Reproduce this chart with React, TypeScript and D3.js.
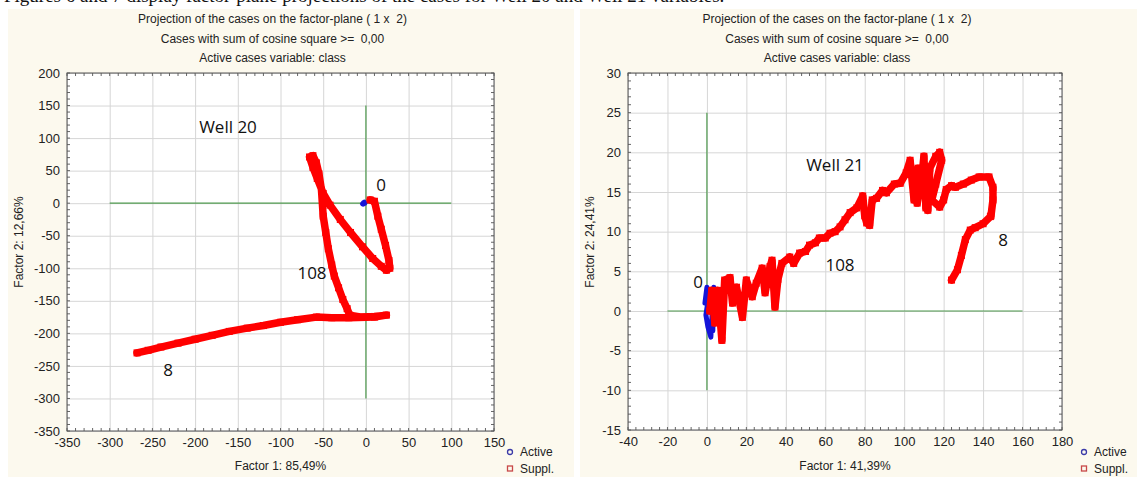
import React, { useEffect, useRef } from 'react'
import * as d3 from 'd3'

// values (factor 1, factor 2)
const well20Active: [number, number][] = [[-4, -1], [-3, 0.5], [-2, 1.5], [-1, 0], [-3, -1.5]]
const well20Suppl: [number, number][] = [
  [5, 5], [10, 3], [14, -20], [18, -40], [23, -65], [27, -88], [28, -100], [24, -103],
  [18, -97], [8, -85], [-4, -67], [-18, -45], [-30, -25], [-42, -3], [-50, 15],
  [-57, 38], [-62, 55], [-66, 71], [-62, 73], [-58, 62], [-55, 45], [-52, 20],
  [-50, -20], [-47, -45], [-44, -70], [-40, -95], [-37, -112], [-32, -130], [-27, -148],
  [-22, -162], [-19, -172], [-5, -175], [10, -174], [24, -172], [10, -175], [-20, -176],
  [-40, -176], [-58, -175], [-80, -179], [-100, -183], [-120, -188], [-139, -192],
  [-160, -197], [-180, -203], [-200, -209], [-220, -215], [-240, -221], [-255, -226], [-268, -230]
]

const well21Active: [number, number][] = [
  [-1, 1], [0, 3], [1, 2], [-0.5, -0.5], [0.5, -2], [2, -3.3], [2.5, -1], [3.5, 3], [3, -2.5]
]
const well21Suppl: [number, number][] = [
  [1.5, 0], [2.5, 2.6], [4, -1.5], [5.6, 2.6], [7.6, -3.7], [9, 3.9], [11.7, 4.2], [13, 1],
  [15, 3], [18, -0.8], [20, 3.9], [23, 1.8], [25, 3.5], [28, 5.4], [29.5, 2.3], [32, 5.6],
  [33, 6.4], [34.5, 0.5], [36, 4], [38, 6], [42, 6.8], [44, 6], [47, 7.3], [50, 7.5],
  [52, 8.3], [55, 8.6], [57, 9.2], [60, 9.2], [62.4, 9.8], [65, 10], [67.5, 10.6], [70, 11.5],
  [72.6, 12.4], [76, 13], [79, 14.5], [80, 12], [81, 11.1], [82.5, 10.8], [83.8, 14],
  [86, 14.2], [89, 15.2], [91, 14.9], [95, 16], [98, 16.1], [101, 17.4], [103, 19], [105, 14],
  [107, 18], [106.6, 13.6], [109, 17], [110, 19.5], [111, 13], [112, 12.7], [113, 18],
  [116, 19.5], [118, 20], [119, 19], [116, 16], [114, 14], [118, 13.1], [120, 14],
  [121.3, 15.3], [124, 15.8], [126, 15.6], [130, 16], [134, 16.5], [138, 16.9], [143, 16.9],
  [145, 15.6], [145, 14], [144, 12], [143.7, 11.9], [140, 11], [136, 10.5], [133.5, 10.2],
  [131, 9], [129, 7], [127, 5.2], [124, 3.9]
]

const xTicks20 = [-350, -300, -250, -200, -150, -100, -50, 0, 50, 100, 150]
const yTicks20 = [-350, -300, -250, -200, -150, -100, -50, 0, 50, 100, 150, 200]
const xTicks21 = [-40, -20, 0, 20, 40, 60, 80, 100, 120, 140, 160, 180]
const yTicks21 = [-15, -10, -5, 0, 5, 10, 15, 20, 25, 30]

const titleLines = [
  'Projection of the cases on the factor-plane ( 1 x  2)',
  'Cases with sum of cosine square >=  0,00',
  'Active cases variable: class'
]

const font = 'Liberation Sans, Arial, sans-serif'

type PanelCfg = {
  bg: [number, number]
  box: [number, number, number, number] // left, top, right, bottom
  xTicks: number[]
  yTicks: number[]
  active: [number, number][]
  suppl: [number, number][]
  hLine: [number, number]
  vLine: [number, number]
  xTitle: string
  yTitle: string
  yTitleX: number
  well: { text: string; x: number; y: number }
  marks: { text: string; x: number; y: number }[]
  legendX: number
}

const panels: PanelCfg[] = [
  {
    bg: [8, 574],
    box: [67, 73, 494, 431],
    xTicks: xTicks20,
    yTicks: yTicks20,
    active: well20Active,
    suppl: well20Suppl,
    hLine: [-300, 100],
    vLine: [-300, 150],
    xTitle: 'Factor 1: 85,49%',
    yTitle: 'Factor 2: 12,66%',
    yTitleX: 23,
    well: { text: 'Well 20', x: 228, y: 133 },
    marks: [
      { text: '0', x: 381, y: 191 },
      { text: '108', x: 312, y: 279 },
      { text: '8', x: 168, y: 376 }
    ],
    legendX: 510
  },
  {
    bg: [580, 1137],
    box: [628, 73, 1062, 430],
    xTicks: xTicks21,
    yTicks: yTicks21,
    active: well21Active,
    suppl: well21Suppl,
    hLine: [-20, 160],
    vLine: [-10, 25],
    xTitle: 'Factor 1: 41,39%',
    yTitle: 'Factor 2: 24,41%',
    yTitleX: 594,
    well: { text: 'Well 21', x: 835, y: 171 },
    marks: [
      { text: '0', x: 698, y: 288 },
      { text: '108', x: 840, y: 271 },
      { text: '8', x: 1003, y: 246 }
    ],
    legendX: 1084
  }
]

function drawPanel(svg: d3.Selection<SVGSVGElement, unknown, null, undefined>, p: PanelCfg) {
  const [l, t, r, b] = p.box
  const x = d3.scaleLinear().domain(d3.extent(p.xTicks) as [number, number]).range([l, r])
  const y = d3.scaleLinear().domain(d3.extent(p.yTicks) as [number, number]).range([b, t])
  const g = svg.append('g')

  g.append('rect').attr('x', p.bg[0]).attr('y', 9).attr('width', p.bg[1] - p.bg[0]).attr('height', 468)
    .attr('fill', '#fcf9ee')

  const cx = (l + r) / 2
  titleLines.forEach((s, i) => {
    g.append('text').attr('x', cx - 8).attr('y', 23 + i * 19.5).attr('text-anchor', 'middle')
      .attr('font-family', font).attr('font-size', 12).attr('fill', '#222')
      .style('white-space', 'pre').text(s)
  })

  g.append('rect').attr('x', l).attr('y', t).attr('width', r - l).attr('height', b - t).attr('fill', '#fff')

  // grid
  g.append('g').attr('transform', `translate(0,${b})`)
    .call(d3.axisBottom(x).tickValues(p.xTicks).tickSize(-(b - t)).tickFormat(() => ''))
    .call(s => s.select('.domain').remove())
    .call(s => s.selectAll('line').attr('stroke', '#d6d6d6'))
  g.append('g').attr('transform', `translate(${l},0)`)
    .call(d3.axisLeft(y).tickValues(p.yTicks).tickSize(-(r - l)).tickFormat(() => ''))
    .call(s => s.select('.domain').remove())
    .call(s => s.selectAll('line').attr('stroke', '#d6d6d6'))

  // minor ticks on the frame
  const xStep = (p.xTicks[1] - p.xTicks[0]) / 5
  const yStep = (p.yTicks[1] - p.yTicks[0]) / 5
  const xMinor = d3.range(p.xTicks[0], p.xTicks[p.xTicks.length - 1] + 0.001, xStep)
  const yMinor = d3.range(p.yTicks[0], p.yTicks[p.yTicks.length - 1] + 0.001, yStep)
  const tk = g.append('g').attr('stroke', '#666').attr('stroke-width', 1)
  xMinor.forEach(v => {
    tk.append('line').attr('x1', x(v)).attr('x2', x(v)).attr('y1', b).attr('y2', b - 3)
    tk.append('line').attr('x1', x(v)).attr('x2', x(v)).attr('y1', t).attr('y2', t + 3)
  })
  yMinor.forEach(v => {
    tk.append('line').attr('y1', y(v)).attr('y2', y(v)).attr('x1', l).attr('x2', l + 3)
    tk.append('line').attr('y1', y(v)).attr('y2', y(v)).attr('x1', r).attr('x2', r - 3)
  })

  // tick labels
  g.append('g').attr('transform', `translate(0,${b + 4})`)
    .call(d3.axisBottom(x).tickValues(p.xTicks).tickSize(0).tickFormat(d => String(d)))
    .call(s => s.select('.domain').remove())
    .call(s => s.selectAll('text').attr('font-family', font).attr('font-size', 13).attr('fill', '#222'))
  g.append('g').attr('transform', `translate(${l - 4},0)`)
    .call(d3.axisLeft(y).tickValues(p.yTicks).tickSize(0).tickFormat(d => String(d)))
    .call(s => s.select('.domain').remove())
    .call(s => s.selectAll('text').attr('font-family', font).attr('font-size', 13).attr('fill', '#222'))

  // reference lines
  g.append('line').attr('x1', x(p.hLine[0])).attr('x2', x(p.hLine[1])).attr('y1', y(0)).attr('y2', y(0))
    .attr('stroke', '#4f9a4f').attr('stroke-width', 1.2)
  g.append('line').attr('x1', x(0)).attr('x2', x(0)).attr('y1', y(p.vLine[0])).attr('y2', y(p.vLine[1]))
    .attr('stroke', '#4f9a4f').attr('stroke-width', 1.2)

  g.append('rect').attr('x', l).attr('y', t).attr('width', r - l).attr('height', b - t)
    .attr('fill', 'none').attr('stroke', '#555')

  const line = d3.line<[number, number]>().x(d => x(d[0])).y(d => y(d[1]))
  g.append('path').attr('d', line(p.active)).attr('fill', 'none').attr('stroke', '#1414d8')
    .attr('stroke-width', 5).attr('stroke-linejoin', 'round').attr('stroke-linecap', 'round')
  g.append('path').attr('d', line(p.suppl)).attr('fill', 'none').attr('stroke', '#ff0000')
    .attr('stroke-width', 7.5).attr('stroke-linejoin', 'round').attr('stroke-linecap', 'round')
  g.append('g').selectAll('rect').data(p.suppl).join('rect')
    .attr('x', d => x(d[0]) - 3.5).attr('y', d => y(d[1]) - 3.5).attr('width', 7).attr('height', 7)
    .attr('fill', '#ff0000')

  // annotations
  const ann = g.append('g').attr('font-family', 'Open Sans, Liberation Sans, sans-serif').attr('font-size', 17)
    .attr('fill', '#111').attr('text-anchor', 'middle')
  ann.append('text').attr('x', p.well.x).attr('y', p.well.y).text(p.well.text)
  p.marks.forEach(m => ann.append('text').attr('x', m.x).attr('y', m.y).text(m.text))

  // axis titles
  g.append('text').attr('x', cx).attr('y', 470).attr('text-anchor', 'middle').attr('font-family', font)
    .attr('font-size', 12).attr('fill', '#222').text(p.xTitle)
  g.append('text').attr('transform', `translate(${p.yTitleX},${242}) rotate(-90)`).attr('text-anchor', 'middle')
    .attr('font-family', font).attr('font-size', 12).attr('fill', '#222').text(p.yTitle)

  // legend
  const lg = g.append('g').attr('font-family', font).attr('font-size', 12).attr('fill', '#222')
  lg.append('circle').attr('cx', p.legendX).attr('cy', 452).attr('r', 2.5).attr('fill', 'none')
    .attr('stroke', '#3a3aa8').attr('stroke-width', 1.3)
  lg.append('rect').attr('x', p.legendX - 2.5).attr('y', 466).attr('width', 5).attr('height', 5).attr('fill', 'none')
    .attr('stroke', '#c84848').attr('stroke-width', 1.3)
  lg.append('text').attr('x', p.legendX + 10).attr('y', 456).text('Active')
  lg.append('text').attr('x', p.legendX + 10).attr('y', 473).text('Suppl.')
}

export default function App() {
  const ref = useRef<SVGSVGElement>(null)
  useEffect(() => {
    const svg = d3.select(ref.current as SVGSVGElement)
    svg.selectAll('*').remove()
    // caption of the source page, cut off by the top edge as in the reference
    svg.append('text').attr('x', 4).attr('y', 2).attr('font-family', 'Liberation Serif, serif').attr('font-size', 19)
      .attr('fill', '#111')
      .text('Figures 6 and 7 display factor-plane projections of the cases for Well 20 and Well 21 variables.')
    panels.forEach(p => drawPanel(svg, p))
  }, [])
  return (
    <div style={{ position: 'absolute', left: 0, top: 0 }}>
      <svg ref={ref} width={1137} height={477} style={{ display: 'block', background: '#fff' }} />
    </div>
  )
}
